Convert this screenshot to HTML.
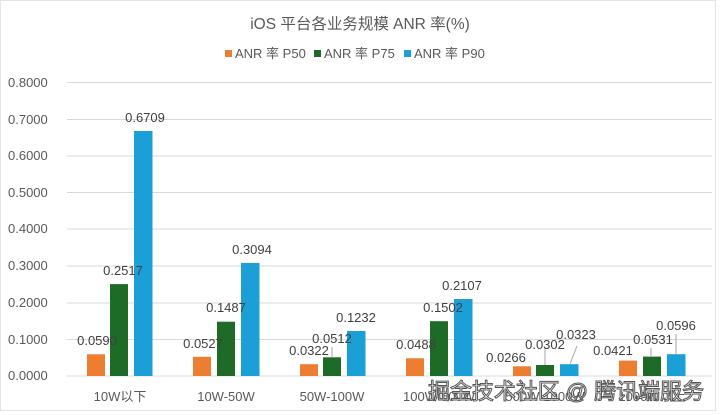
<!DOCTYPE html>
<html><head><meta charset="utf-8"><style>
body{margin:0;background:#fff;}
svg{display:block;font-family:"Liberation Sans","Noto Sans CJK SC",sans-serif;}
</style></head><body>
<svg width="720" height="415" viewBox="0 0 720 415">
<rect x="0" y="0" width="720" height="415" fill="#fff"/>
<rect x="0.5" y="0.5" width="715" height="410" fill="none" stroke="#e4e4e4"/>
<text x="360" y="29" text-anchor="middle" font-size="15.5" fill="#595959">iOS 平台各业务规模 ANR 率(%)</text>
<g font-size="13" fill="#595959">
<rect x="225" y="50" width="7" height="7" fill="#ed7d31"/><text x="235" y="58">ANR 率 P50</text>
<rect x="314" y="50" width="7" height="7" fill="#1e6b27"/><text x="324" y="58">ANR 率 P75</text>
<rect x="404" y="50" width="7" height="7" fill="#1a9fd6"/><text x="414" y="58">ANR 率 P90</text>
</g>
<g stroke="#d9d9d9" stroke-width="1">
<line x1="67" x2="712" y1="82.5" y2="82.5"/><line x1="67" x2="712" y1="119.5" y2="119.5"/>
<line x1="67" x2="712" y1="156" y2="156"/><line x1="67" x2="712" y1="192.5" y2="192.5"/>
<line x1="67" x2="712" y1="229" y2="229"/><line x1="67" x2="712" y1="266" y2="266"/>
<line x1="67" x2="712" y1="303" y2="303"/><line x1="67" x2="712" y1="339.5" y2="339.5"/>
<line x1="67" x2="712" y1="376" y2="376"/>
</g>
<g font-size="13" fill="#595959">
<text x="8" y="87">0.8000</text><text x="8" y="124">0.7000</text><text x="8" y="160">0.6000</text>
<text x="8" y="197">0.5000</text><text x="8" y="233">0.4000</text><text x="8" y="270">0.3000</text>
<text x="8" y="307">0.2000</text><text x="8" y="344">0.1000</text><text x="8" y="380">0.0000</text>
</g>
<g>
<rect x="87" y="354.3" width="18" height="21.7" fill="#ed7d31"/>
<rect x="110" y="284.1" width="18" height="91.9" fill="#1e6b27"/>
<rect x="134" y="131" width="18.5" height="245" fill="#1a9fd6"/>
<rect x="193" y="356.8" width="18" height="19.2" fill="#ed7d31"/>
<rect x="217" y="321.7" width="18" height="54.3" fill="#1e6b27"/>
<rect x="241" y="263" width="18.5" height="113" fill="#1a9fd6"/>
<rect x="300" y="364.2" width="18" height="11.8" fill="#ed7d31"/>
<rect x="323" y="357.3" width="18" height="18.7" fill="#1e6b27"/>
<rect x="347" y="331" width="18.5" height="45" fill="#1a9fd6"/>
<rect x="406" y="358.3" width="18" height="17.7" fill="#ed7d31"/>
<rect x="430" y="321.2" width="18" height="54.8" fill="#1e6b27"/>
<rect x="454" y="299" width="18.5" height="77" fill="#1a9fd6"/>
<rect x="513" y="366.3" width="18" height="9.7" fill="#ed7d31"/>
<rect x="536" y="365" width="18" height="11" fill="#1e6b27"/>
<rect x="560" y="364.2" width="18.5" height="11.8" fill="#1a9fd6"/>
<rect x="619" y="360.6" width="18" height="15.4" fill="#ed7d31"/>
<rect x="643" y="356.6" width="18" height="19.4" fill="#1e6b27"/>
<rect x="667" y="354.2" width="18.5" height="21.8" fill="#1a9fd6"/>
</g>
<g stroke="#a6a6a6" stroke-width="1" fill="none">
<line x1="332" y1="347" x2="332" y2="357"/>
<line x1="545" y1="348" x2="545" y2="365"/>
<line x1="577" y1="346" x2="570" y2="364"/>
<line x1="651" y1="348" x2="651" y2="356"/>
<line x1="676" y1="334" x2="676" y2="354"/>
</g>
<g font-size="13" fill="#404040" text-anchor="middle">
<text x="97" y="345">0.0590</text><text x="123" y="275">0.2517</text><text x="145" y="122">0.6709</text>
<text x="203" y="348">0.0527</text><text x="226" y="312">0.1487</text><text x="252" y="254">0.3094</text>
<text x="309" y="355">0.0322</text><text x="332" y="343">0.0512</text><text x="356" y="322">0.1232</text>
<text x="416" y="349">0.0488</text><text x="443" y="312">0.1502</text><text x="462" y="290">0.2107</text>
<text x="506" y="362">0.0266</text><text x="545" y="349">0.0302</text><text x="576" y="339">0.0323</text>
<text x="613" y="355">0.0421</text><text x="653" y="344">0.0531</text><text x="676" y="330">0.0596</text>
</g>
<g font-size="13" fill="#595959" text-anchor="middle">
<text x="120" y="401">10W以下</text><text x="226" y="401">10W-50W</text><text x="332" y="401">50W-100W</text>
<text x="439" y="401">100W-500W</text><text x="545" y="401">500W-1000W</text><text x="652" y="401">1000W以上</text>
</g>
<text x="428" y="399" font-size="22" textLength="276" fill="#fff" stroke="#555" stroke-width="1" font-family="Liberation Sans,'Noto Sans CJK SC',sans-serif">掘金技术社区 @ 腾讯端服务</text>
</svg>
</body></html>
